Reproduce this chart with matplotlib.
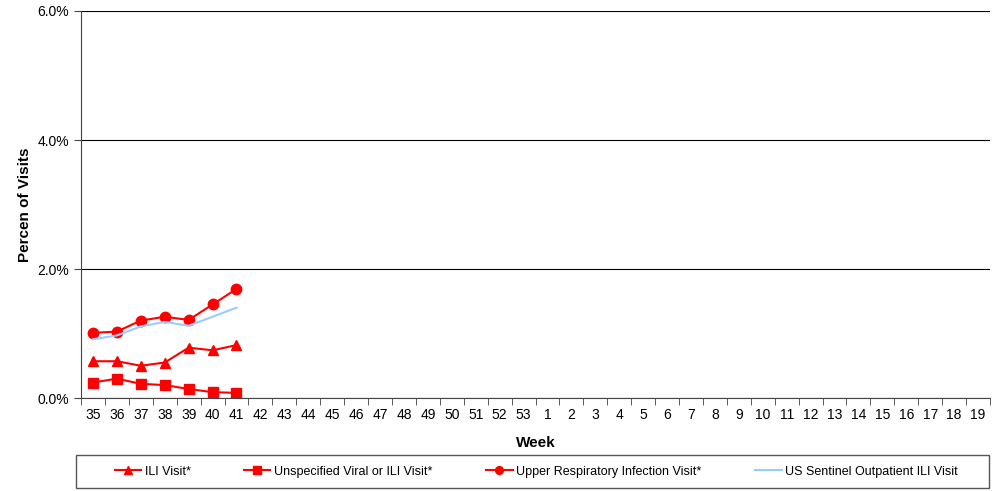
import matplotlib.pyplot as plt
from matplotlib.patches import Rectangle
from matplotlib.ticker import FixedLocator, PercentFormatter

plt.rcParams['font.family'] = ['Liberation Sans', 'DejaVu Sans']

weeks = [str(w) for w in range(35, 54)] + [str(w) for w in range(1, 20)]

ili = [0.57, 0.57, 0.50, 0.55, 0.78, 0.74, 0.82]
unspecified = [0.24, 0.30, 0.22, 0.20, 0.14, 0.09, 0.08]
upper_resp = [1.01, 1.03, 1.20, 1.26, 1.21, 1.45, 1.69]
us_sentinel = [0.91, 0.97, 1.11, 1.18, 1.12, 1.26, 1.40]

fig = plt.figure(figsize=(9.95, 4.91), dpi=100)
ax = fig.add_axes([0.0814, 0.1894, 0.9136, 0.7882])

x = list(range(len(ili)))
ax.plot(x, ili, color='red', marker='^', markersize=7.5, lw=1.5, label='ILI Visit*')
ax.plot(x, unspecified, color='red', marker='s', markersize=7, lw=1.5,
        label='Unspecified Viral or ILI Visit*')
ax.plot(x, upper_resp, color='red', marker='o', markersize=7.5, lw=1.5,
        label='Upper Respiratory Infection Visit*')
ax.plot(x, us_sentinel, color='#99ccff', lw=1.5, label='US Sentinel Outpatient ILI Visit')

ax.set_xlim(-0.5, len(weeks) - 0.5)
ax.set_ylim(0, 6)
ax.set_xticks(range(len(weeks)))
ax.set_xticklabels(weeks, fontsize=10)
ax.xaxis.set_minor_locator(FixedLocator([i - 0.5 for i in range(len(weeks) + 1)]))
ax.tick_params(axis='x', which='major', length=0, pad=7)
ax.tick_params(axis='x', which='minor', length=5, color='#444444')
ax.set_yticks([0, 2, 4, 6])
ax.yaxis.set_major_formatter(PercentFormatter(decimals=1))
ax.tick_params(axis='y', labelsize=10, length=5, color='#444444')

ax.grid(axis='y', color='black', lw=0.8)
ax.set_axisbelow(True)
for s in ['top', 'right']:
    ax.spines[s].set_visible(False)
ax.spines['left'].set_color('#444444')
ax.spines['bottom'].set_color('#444444')

ax.set_xlabel('Week', fontsize=11, fontweight='bold', labelpad=10)
ax.set_ylabel('Percen of Visits', fontsize=11, fontweight='bold', labelpad=4)

# legend box spans the width, entries centred inside it
fig.patches.append(Rectangle((0.0764, 0.006), 0.918, 0.067, transform=fig.transFigure,
                             fill=False, edgecolor='#555555', lw=1.0))
leg = fig.legend(loc='center', ncol=4, bbox_to_anchor=(0.539, 0.0395),
                 fontsize=9, frameon=False, handlelength=2.1, handletextpad=0.3,
                 columnspacing=4.3, markerscale=0.75)

fig.savefig('out.png', dpi=100)
